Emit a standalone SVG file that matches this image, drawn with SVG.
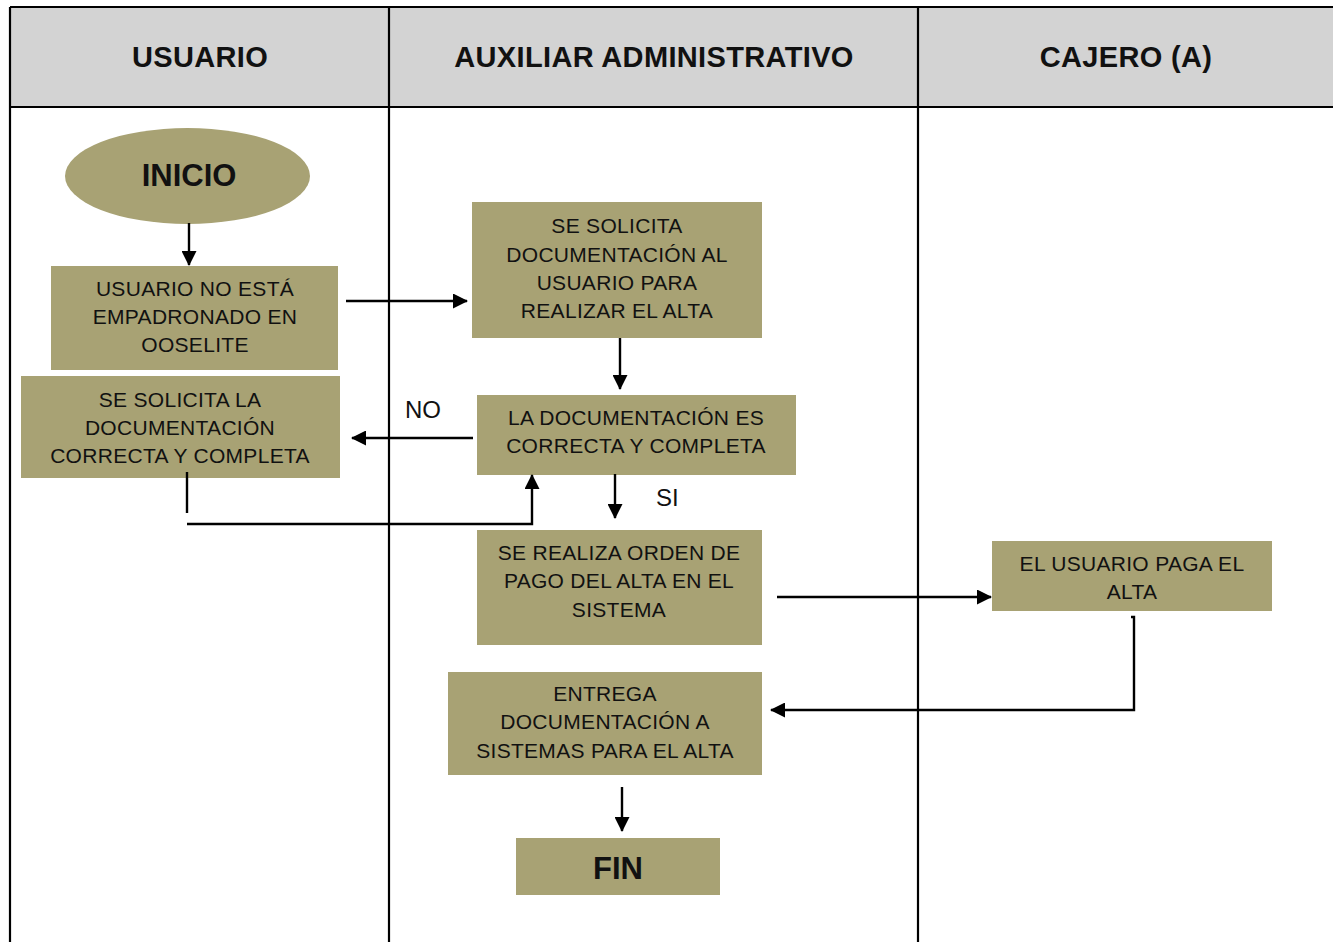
<svg xmlns="http://www.w3.org/2000/svg" width="1333" height="942" viewBox="0 0 1333 942">
<style>
.grid{stroke:#000;stroke-width:2.2;fill:none}
.hdr{font-family:"Liberation Sans",Arial,sans-serif;font-weight:bold;font-size:29px;letter-spacing:0.35px;fill:#111;text-anchor:middle}
.node{fill:#a8a274}
.t{font-family:"Liberation Sans",Arial,sans-serif;font-size:21px;letter-spacing:0.3px;fill:#111;text-anchor:middle}
.tb{font-family:"Liberation Sans",Arial,sans-serif;font-size:31px;font-weight:bold;fill:#111;text-anchor:middle}
.lbl{font-family:"Liberation Sans",Arial,sans-serif;font-size:24px;fill:#111}
.c{stroke:#000;stroke-width:2.4;fill:none}
</style>
<defs>
<marker id="ahl" markerWidth="15" markerHeight="15" refX="14" refY="7.5" orient="auto" markerUnits="userSpaceOnUse" viewBox="0 0 15 15">
<path d="M0,0 L15,7.5 L0,15 z" fill="#000"/>
</marker>
</defs>
<rect width="1333" height="942" fill="#fff"/>
<g id="lanes">
<rect x="10" y="7" width="1325" height="100" fill="#d3d3d3"/>
<path class="grid" d="M10,7 H1335 M10,107 H1335 M10,7 V942 M389,7 V942 M918,7 V942"/>
<text class="hdr" x="200" y="67">USUARIO</text>
<text class="hdr" x="654" y="67">AUXILIAR ADMINISTRATIVO</text>
<text class="hdr" x="1126" y="67">CAJERO (A)</text>
</g>
<g id="inicio">
<ellipse class="node" cx="187.5" cy="176" rx="122.5" ry="48"/>
<text class="tb" x="189" y="186">INICIO</text>
</g>
<g id="n_empadronado">
<rect class="node" x="51" y="266" width="287" height="104"/>
<text class="t" x="195" y="296">USUARIO NO ESTÁ</text>
<text class="t" x="195" y="324">EMPADRONADO EN</text>
<text class="t" x="195" y="352">OOSELITE</text>
</g>
<g id="n_solicita_correcta">
<rect class="node" x="21" y="376" width="319" height="102"/>
<text class="t" x="180" y="407">SE SOLICITA LA</text>
<text class="t" x="180" y="435">DOCUMENTACIÓN</text>
<text class="t" x="180" y="463">CORRECTA Y COMPLETA</text>
</g>
<g id="n_solicita_doc">
<rect class="node" x="472" y="202" width="290" height="136"/>
<text class="t" x="617" y="233">SE SOLICITA</text>
<text class="t" x="617" y="262">DOCUMENTACIÓN AL</text>
<text class="t" x="617" y="290">USUARIO PARA</text>
<text class="t" x="617" y="318">REALIZAR EL ALTA</text>
</g>
<g id="n_decision">
<rect class="node" x="477" y="395" width="319" height="80"/>
<text class="t" x="636" y="425">LA DOCUMENTACIÓN ES</text>
<text class="t" x="636" y="453">CORRECTA Y COMPLETA</text>
</g>
<g id="n_orden">
<rect class="node" x="477" y="530" width="285" height="115"/>
<text class="t" x="619" y="560">SE REALIZA ORDEN DE</text>
<text class="t" x="619" y="588">PAGO DEL ALTA EN EL</text>
<text class="t" x="619" y="617">SISTEMA</text>
</g>
<g id="n_paga">
<rect class="node" x="992" y="541" width="280" height="70"/>
<text class="t" x="1132" y="571">EL USUARIO PAGA EL</text>
<text class="t" x="1132" y="599">ALTA</text>
</g>
<g id="n_entrega">
<rect class="node" x="448" y="672" width="314" height="103"/>
<text class="t" x="605" y="701">ENTREGA</text>
<text class="t" x="605" y="729">DOCUMENTACIÓN A</text>
<text class="t" x="605" y="758">SISTEMAS PARA EL ALTA</text>
</g>
<g id="fin">
<rect class="node" x="516" y="838" width="204" height="57"/>
<text class="tb" x="618" y="879">FIN</text>
</g>
<g id="connectors">
<line class="c" x1="189" y1="223" x2="189" y2="265" marker-end="url(#ahl)"/>
<line class="c" x1="346" y1="301" x2="467" y2="301" marker-end="url(#ahl)"/>
<line class="c" x1="620" y1="338" x2="620" y2="389" marker-end="url(#ahl)"/>
<line class="c" x1="473" y1="438" x2="352" y2="438" marker-end="url(#ahl)"/>
<text class="lbl" x="405" y="418">NO</text>
<line class="c" x1="615" y1="474" x2="615" y2="518" marker-end="url(#ahl)"/>
<text class="lbl" x="656" y="506">SI</text>
<line class="c" x1="187" y1="472" x2="187" y2="513"/>
<polyline class="c" points="187,524 532,524 532,475" marker-end="url(#ahl)"/>
<line class="c" x1="777" y1="597" x2="991" y2="597" marker-end="url(#ahl)"/>
<polyline class="c" points="1131,617 1134,617 1134,710 771,710" marker-end="url(#ahl)"/>
<line class="c" x1="622" y1="787" x2="622" y2="831" marker-end="url(#ahl)"/>
</g>
</svg>
